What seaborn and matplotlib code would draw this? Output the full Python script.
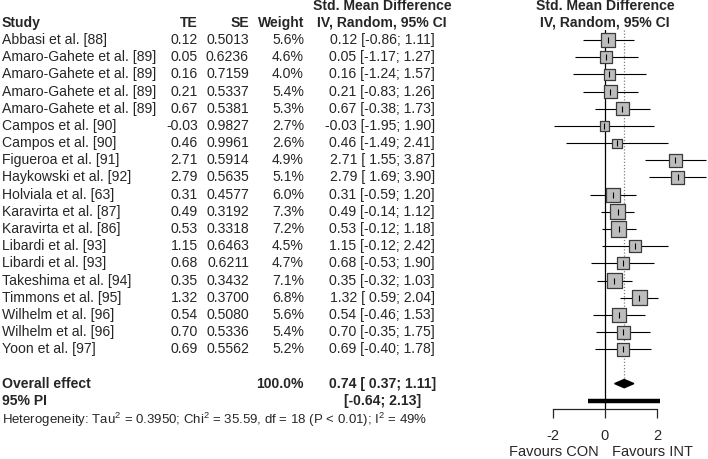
import numpy as np
import pandas as pd
import matplotlib
matplotlib.use("Agg")
import matplotlib.pyplot as plt
import seaborn as sns

studies = ["Abbasi et al. [88]", "Amaro-Gahete et al. [89]", "Amaro-Gahete et al. [89]",
           "Amaro-Gahete et al. [89]", "Amaro-Gahete et al. [89]", "Campos et al. [90]",
           "Campos et al. [90]", "Figueroa et al. [91]", "Haykowski et al. [92]",
           "Holviala et al. [63]", "Karavirta et al. [87]", "Karavirta et al. [86]",
           "Libardi et al. [93]", "Libardi et al. [93]", "Takeshima et al. [94]",
           "Timmons et al. [95]", "Wilhelm et al. [96]", "Wilhelm et al. [96]",
           "Yoon et al. [97]"]
te = [0.12, 0.05, 0.16, 0.21, 0.67, -0.03, 0.46, 2.71, 2.79, 0.31, 0.49, 0.53,
      1.15, 0.68, 0.35, 1.32, 0.54, 0.70, 0.69]
se = [0.5013, 0.6236, 0.7159, 0.5337, 0.5381, 0.9827, 0.9961, 0.5914, 0.5635, 0.4577,
      0.3192, 0.3318, 0.6463, 0.6211, 0.3432, 0.3700, 0.5080, 0.5336, 0.5562]
weight = [5.6, 4.6, 4.0, 5.4, 5.3, 2.7, 2.6, 4.9, 5.1, 6.0, 7.3, 7.2, 4.5, 4.7, 7.1,
          6.8, 5.6, 5.4, 5.2]
lower = [-0.86, -1.17, -1.24, -0.83, -0.38, -1.95, -1.49, 1.55, 1.69, -0.59, -0.14,
         -0.12, -0.12, -0.53, -0.32, 0.59, -0.46, -0.35, -0.40]
upper = [1.11, 1.27, 1.57, 1.26, 1.73, 1.90, 2.41, 3.87, 3.90, 1.20, 1.12, 1.18,
         2.42, 1.90, 1.03, 2.04, 1.53, 1.75, 1.78]
overall = [0.37, 0.74, 1.11]
pred_int = [-0.64, 2.13]
xticks = [-2, 0, 2]

df = pd.DataFrame({"study": studies, "te": te, "se": se, "weight": weight,
                   "lower": lower, "upper": upper})
df["row"] = np.arange(len(df))

sns.set_style("white")
plt.rcParams["font.family"] = ["Liberation Sans", "DejaVu Sans"]
plt.rcParams["mathtext.fontset"] = "custom"
plt.rcParams["mathtext.rm"] = "Liberation Sans"
fs = 10.1

W, H = 708, 459
row0, rowh = 40, 17.18
ylim = ((H - row0) / rowh, -row0 / rowh)

fig = plt.figure(figsize=(7.08, 4.59), dpi=100)
ax = fig.add_axes([0, 0, 1, 1])
ax.set_xlim(0, W)
ax.set_ylim(*ylim)
ax.axis("off")

# forest axes: x=0 sits at 605 px, 26 px per unit
fx = fig.add_axes([0, 0, 1, 1], facecolor="none")
fx.set_xlim(-605 / 26, (W - 605) / 26)
fx.set_ylim(*ylim)

# headers
bold = dict(fontsize=fs, fontweight="bold", va="center")
ax.text(2, -1, "Study", ha="left", **bold)
ax.text(198, -1, "TE", ha="right", **bold)
ax.text(249, -1, "SE", ha="right", **bold)
ax.text(304, -1, "Weight", ha="right", **bold)
ax.text(382, -2, "Std. Mean Difference", ha="center", **bold)
ax.text(382, -1, "IV, Random, 95% CI", ha="center", **bold)
fx.text(0, -2, "Std. Mean Difference", ha="center", **bold)
fx.text(0, -1, "IV, Random, 95% CI", ha="center", **bold)

# study rows
for _, r in df.iterrows():
    y = r["row"]
    ax.text(2, y, r["study"], ha="left", va="center", fontsize=fs)
    ax.text(198, y, f"{r['te']:.2f}", ha="right", va="center", fontsize=fs)
    ax.text(249, y, f"{r['se']:.4f}", ha="right", va="center", fontsize=fs)
    ax.text(304, y, f"{r['weight']:.1f}%", ha="right", va="center", fontsize=fs)
    lo = f"{r['lower']:.2f}" if r["lower"] < 0 else f" {r['lower']:.2f}"
    ax.text(435, y, f"{r['te']:.2f} [{lo}; {r['upper']:.2f}]", ha="right",
            va="center", fontsize=fs)

n = len(df)
y_over, y_pi = n + 1, n + 2
ax.text(2, y_over, "Overall effect", ha="left", **bold)
ax.text(304, y_over, "100.0%", ha="right", **bold)
ax.text(436, y_over, f"{overall[1]:.2f} [ {overall[0]:.2f}; {overall[2]:.2f}]",
        ha="right", **bold)
ax.text(2, y_pi, "95% PI", ha="left", **bold)
ax.text(421, y_pi, f"[{pred_int[0]:.2f}; {pred_int[1]:.2f}]", ha="right", **bold)
ax.text(2, 22.12, r"Heterogeneity: Tau$^{2}$ = 0.3950; Chi$^{2}$ = 35.59, df = 18 "
        r"(P < 0.01); I$^{2}$ = 49%", ha="left", va="center", fontsize=9.5)

# reference lines
y_axis = 21.48
fx.plot([0, 0], [-0.6, y_axis], color="black", lw=0.9, zorder=1)
fx.plot([overall[1]] * 2, [-0.6, y_over - 0.2], color="gray", lw=0.9,
        ls=(0, (1, 1.5)), zorder=1)

# CIs
fx.hlines(df["row"], df["lower"], df["upper"], color="black", lw=0.8, zorder=2)
sns.scatterplot(data=df, x="te", y="row", size="weight", sizes=(16.5 * 2.6, 16.5 * 7.3),
                marker="s", color="#bdbdbd", edgecolor="#3a3a3a", linewidth=0.9,
                legend=False, ax=fx, zorder=3)
fx.scatter(df["te"], df["row"], marker="|", s=14, color="black", lw=0.8, zorder=4)

# diamond and prediction interval
h = 0.24
fx.fill([overall[0], overall[1], overall[2], overall[1]],
        [y_over, y_over - h, y_over, y_over + h], color="black", zorder=3)
fx.plot(pred_int, [y_pi, y_pi], color="black", lw=3.2, solid_capstyle="butt")

# axis
for s in ["top", "left", "right"]:
    fx.spines[s].set_visible(False)
fx.spines["bottom"].set_position(("data", y_axis))
fx.spines["bottom"].set_bounds(xticks[0], xticks[-1])
fx.spines["bottom"].set_linewidth(0.9)
fx.set_xticks(xticks)
fx.set_xticklabels([str(t) for t in xticks])
fx.tick_params(axis="x", direction="out", length=6.5, width=0.9, pad=8,
               labelsize=10.5, bottom=True)
fx.set_yticks([])
fx.set_xlabel("")
fx.set_ylabel("")
fx.text(-0.25, 23.98, "Favours CON", ha="right", va="center", fontsize=10.5)
fx.text(0.27, 23.98, "Favours INT", ha="left", va="center", fontsize=10.5)

fig.savefig("out.png", dpi=100)
